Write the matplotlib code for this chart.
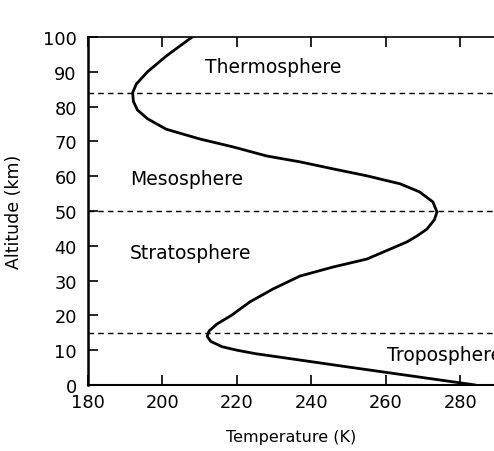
import matplotlib
matplotlib.use("Agg")
import matplotlib.pyplot as plt

altitude_km = [0, 5, 9, 10, 11, 12.5, 14, 15.5, 17.5, 20, 23.9, 27.6, 31.3, 33.9, 36.2, 41.1, 42.8,
               44.8, 47.5, 49.7, 52.6, 55.5, 57.8, 60.1, 62.1, 64.1, 65.8, 68.4, 70.7, 73.5,
               76.5, 79, 81.5, 84, 86.5, 90, 94.5, 100]
temperature_k = [284, 251, 225, 220, 216, 213, 212, 212.5, 214.6, 218.5, 223.5, 229.7, 236.9, 245.8, 254.9, 265.6, 268.3,
                 271, 273, 273.7, 272.6, 269, 263.8, 254.9, 245.8, 237, 228, 219, 210, 201,
                 196, 193.3, 192.2, 192, 193, 196, 201, 208]

boundaries_km = [15, 50, 84]
layer_names = ["Troposphere", "Stratosphere", "Mesosphere", "Thermosphere"]
label_T = [260.2, 191.3, 191.3, 211.4]
label_alt = [8.9, 38.2, 59.2, 91.4]

xticks = [180, 200, 220, 240, 260, 280]
yticks = [0, 10, 20, 30, 40, 50, 60, 70, 80, 90, 100]

fig = plt.figure(figsize=(4.94, 4.52), dpi=100)
ax = fig.add_axes([0.178, 0.146, 0.822, 0.770])
ax.set_xlim(180, 289)
ax.set_ylim(0, 100)

ax.plot(temperature_k, altitude_km, color="black", lw=2.0, solid_capstyle="round",
        solid_joinstyle="round")
for b in boundaries_km:
    ax.axhline(b, color="black", lw=1.0, ls=(0, (4, 3)))

for name, t, a in zip(layer_names, label_T, label_alt):
    ax.text(t, a, name, fontsize=13.5, va="center", ha="left", clip_on=True)

ax.set_xticks(xticks)
ax.set_yticks(yticks)
ax.tick_params(direction="in", length=7, width=1.2, labelsize=12.8, top=True)
ax.tick_params(axis="x", pad=6)
ax.tick_params(axis="y", pad=8)
ax.spines["right"].set_visible(False)
ax.spines["left"].set_linewidth(1.8)
ax.spines["bottom"].set_linewidth(1.5)
ax.spines["top"].set_linewidth(1.2)
ax.set_xlabel("Temperature (K)", fontsize=11.5, va="center")
ax.set_ylabel("Altitude (km)", fontsize=12.5, va="center")
ax.xaxis.set_label_coords(0.5, -0.147)
ax.yaxis.set_label_coords(-0.182, 0.5)

fig.savefig("out.png", dpi=100)
